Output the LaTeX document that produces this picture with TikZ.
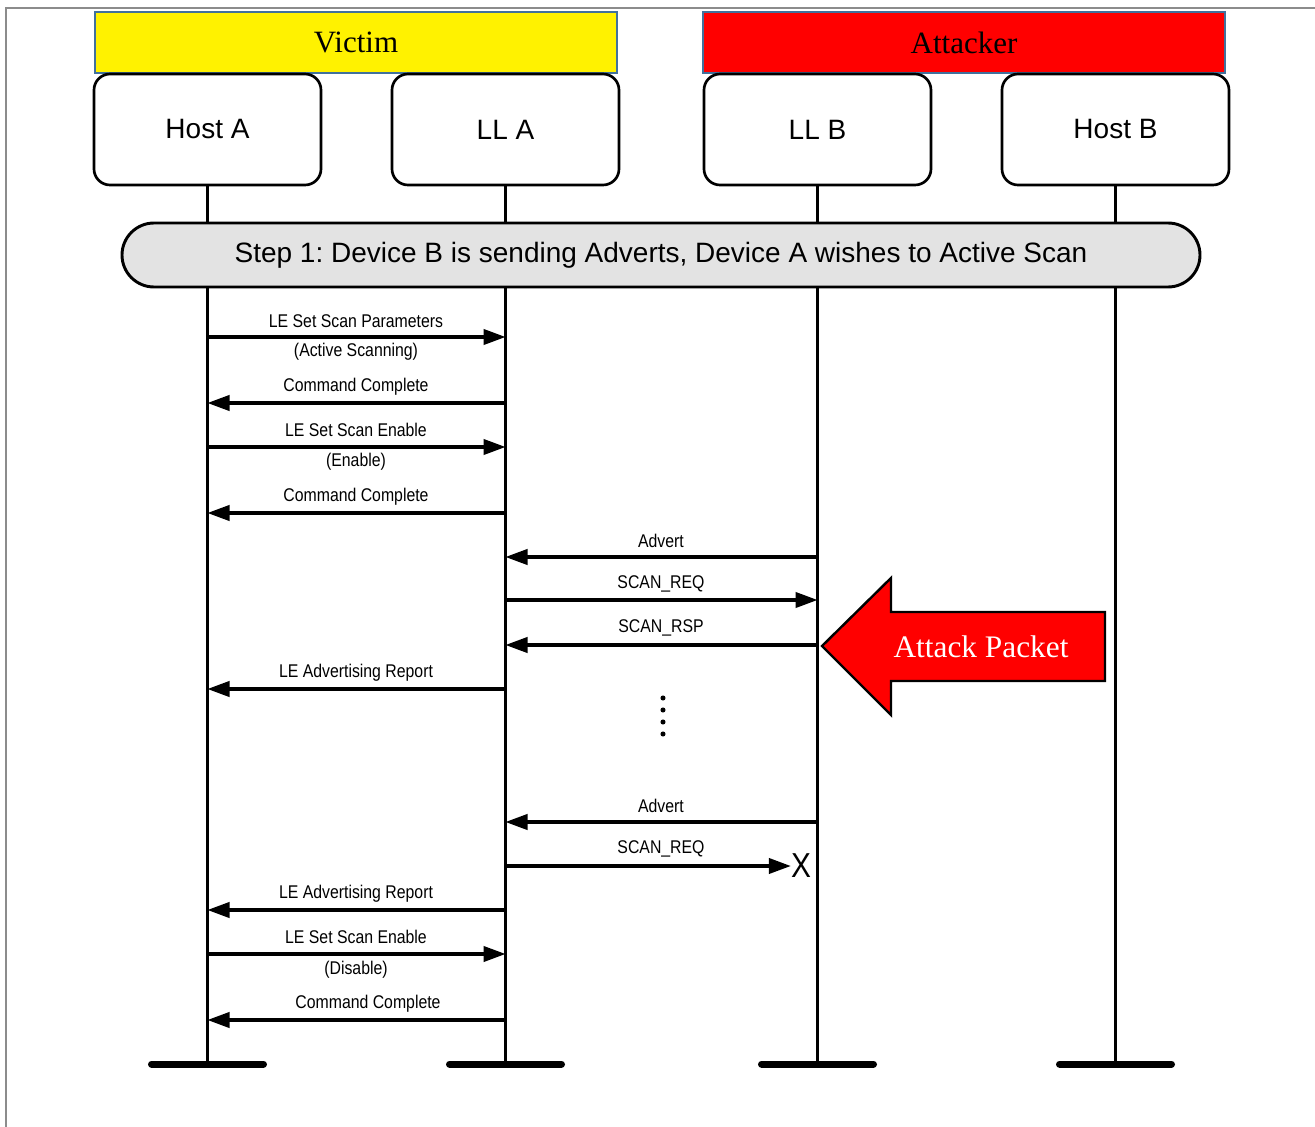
\documentclass[tikz,border=0pt]{standalone}
\usepackage{fontspec}
\setmainfont{Liberation Serif}
\newfontfamily\arialfont{Liberation Sans}
\newfontfamily\narrowfont[FakeStretch=0.86]{Liberation Sans}
\usetikzlibrary{arrows.meta}
\definecolor{hdrborder}{HTML}{41719C}
\definecolor{stepgray}{HTML}{E3E3E3}
\definecolor{framegray}{HTML}{8C8C8C}
\frenchspacing
\begin{document}
\begin{tikzpicture}[x=0.75pt,y=-0.75pt,
 header/.style={draw=hdrborder, line width=1.5pt, minimum width=391.5pt, minimum height=45.75pt, inner sep=0pt, font=\fontsize{23.25pt}{26pt}\selectfont},
 party/.style={draw, line width=2pt, rounded corners=12pt, fill=white, minimum width=170.25pt, minimum height=83.25pt, inner sep=0pt, font=\arialfont\fontsize{21pt}{24pt}\selectfont},
 lifeline/.style={line width=2pt},
 endbar/.style={line width=5.25pt, line cap=round},
 msg/.style={line width=2.3pt, -{Triangle[length=16.5pt,width=11.5pt]}},
 lbl/.style={font=\narrowfont\fontsize{13.8pt}{15pt}\selectfont, inner sep=0pt},
 dotmark/.style={fill=black, circle, inner sep=0pt, minimum size=3.8pt},
]
\useasboundingbox (0,0) rectangle (1315,1127);
\draw[framegray, line width=1.5pt] (6,1127) -- (6,8) -- (1315,8);

% headers
\node[header, fill=yellow] (victim) at (356,42.5) {Victim};
\node[header, fill=red] (attacker) at (964,42.5) {Attacker};

% participants
\node[party] (ha) at (207.5,129.5) {Host A};
\node[party] (lla) at (505.5,129.5) {LL A};
\node[party] (llb) at (817.5,129.5) {LL B};
\node[party] (hb) at (1115.5,129.5) {Host B};

% lifeline ends
\coordinate (haend) at (207.5,1064);
\coordinate (llaend) at (505.5,1064);
\coordinate (llbend) at (817.5,1064);
\coordinate (hbend) at (1115.5,1064);

\foreach \p in {ha,lla,llb,hb}{
  \draw[lifeline] (\p.south) -- (\p end);
  \draw[endbar] ([xshift=-42pt]\p end) -- ([xshift=42pt]\p end);
}

% step bar
\node[draw, line width=2.2pt, fill=stepgray, rounded corners=24pt, minimum width=808.5pt, minimum height=48pt, inner sep=0pt,
  font=\arialfont\fontsize{21pt}{24pt}\selectfont] (step1) at (661,255) {Step 1: Device B is sending Adverts, Device A wishes to Active Scan};

% messages Host A <-> LL A
\node[lbl] (l1) at (356,321) {LE Set Scan Parameters};
\draw[msg] (ha |- 0,337) -- (lla |- 0,337);
\node[lbl] (l1b) at (356,352) {(Active Scanning)};
\node[lbl] (l2) at (356,387) {Command Complete};
\draw[msg] (lla |- 0,403) -- (ha |- 0,403);
\node[lbl] (l3) at (356,430) {LE Set Scan Enable};
\draw[msg] (ha |- 0,447) -- (lla |- 0,447);
\node[lbl] (l3b) at (356,462) {(Enable)};
\node[lbl] (l4) at (356,497) {Command Complete};
\draw[msg] (lla |- 0,513) -- (ha |- 0,513);

% LL A <-> LL B
\node[lbl] (l5) at (661,541) {Advert};
\draw[msg] (llb |- 0,557) -- (lla |- 0,557);
\node[lbl] (l6) at (661,584) {SCAN\_REQ};
\draw[msg] (lla |- 0,600) -- (llb |- 0,600);
\node[lbl] (l7) at (661,628) {SCAN\_RSP};
\draw[msg] (llb |- 0,645) -- (lla |- 0,645);
\node[lbl] (l8) at (356,673) {LE Advertising Report};
\draw[msg] (lla |- 0,689) -- (ha |- 0,689);

% dots
\foreach \yy [count=\i] in {698,710,722,734}{
  \node[dotmark] (dot\i) at (663,\yy) {};
}

\node[lbl] (l9) at (661,806) {Advert};
\draw[msg] (llb |- 0,822) -- (lla |- 0,822);
\node[lbl] (l10) at (661,849) {SCAN\_REQ};
\node[font=\narrowfont\fontsize{26pt}{28pt}\selectfont, inner sep=0pt] (xmark) at (801,866) {X};
\draw[msg] (lla |- 0,866) -- (xmark.west);
\node[lbl] (l11) at (356,894) {LE Advertising Report};
\draw[msg] (lla |- 0,910) -- (ha |- 0,910);
\node[lbl] (l12) at (356,937) {LE Set Scan Enable};
\draw[msg] (ha |- 0,954) -- (lla |- 0,954);
\node[lbl] (l12b) at (356,970) {(Disable)};
\node[lbl] (l13) at (368,1004) {Command Complete};
\draw[msg] (lla |- 0,1020) -- (ha |- 0,1020);

% attack packet arrow
\draw[line width=1.8pt, fill=red] (822,646) -- (891,578) -- (891,612) -- (1105,612) -- (1105,681) -- (891,681) -- (891,715) -- cycle;
\node[text=white, font=\fontsize{23.5pt}{26pt}\selectfont, inner sep=0pt] (attack) at (981,647) {Attack Packet};
\end{tikzpicture}
\end{document}
